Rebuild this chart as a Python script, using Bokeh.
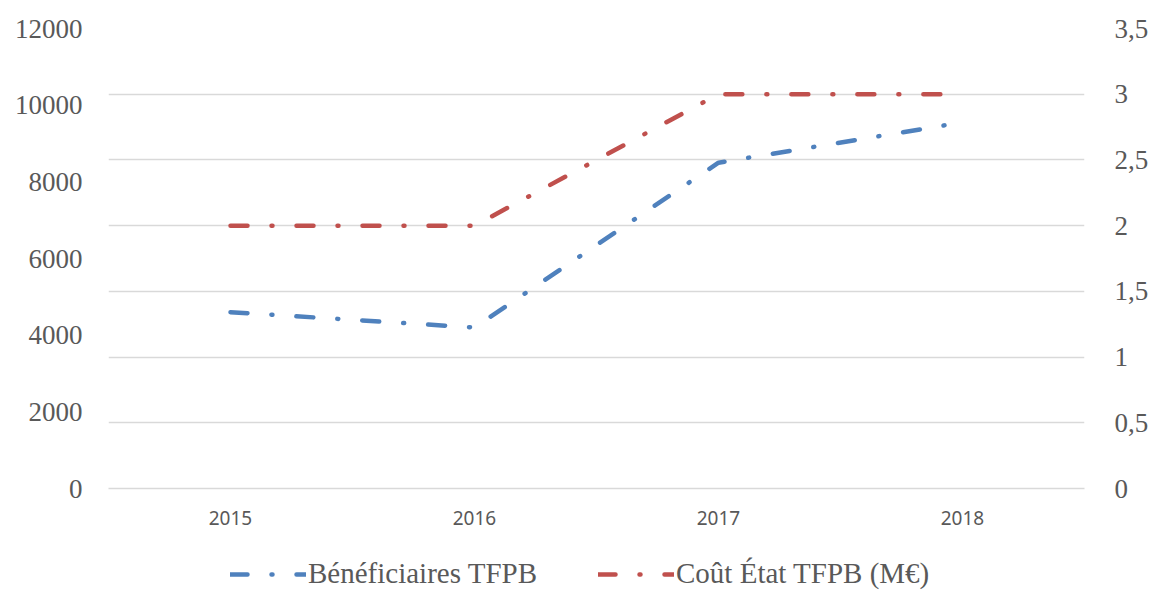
from bokeh.plotting import figure
from bokeh.layouts import column
from bokeh.models import (Range1d, LinearAxis, FixedTicker, CustomJSTickFormatter,
                          Legend, LegendItem, Grid)
from bokeh.embed import file_html
from bokeh.resources import INLINE

years = ["2015", "2016", "2017", "2018"]
beneficiaires = [4600, 4200, 8500, 9550]
cout = [2.0, 2.0, 3.0, 3.0]
left_ticks = [0, 2000, 4000, 6000, 8000, 10000, 12000]
right_ticks = [0, 0.5, 1, 1.5, 2, 2.5, 3, 3.5]
labels = ["Bénéficiaires TFPB", "Coût État TFPB (M€)"]

BLUE = "#4F81BD"
RED = "#C0504D"
TXT = "#595959"
GRID = "#D9D9D9"
DASH = "17 24 1 24"

xs = [i + 0.5 for i in range(len(years))]

p = figure(width=1151, height=538, output_backend="svg", toolbar_location=None,
           x_range=Range1d(0, 4), y_range=Range1d(0, 12000),
           min_border_left=108, min_border_right=66, min_border_top=28, min_border_bottom=50)
p.outline_line_color = None
p.background_fill_color = "white"
p.extra_y_ranges = {"cout": Range1d(0, 3.5)}

# grid follows right axis ticks
p.xgrid.visible = False
p.ygrid.visible = False
g = Grid(dimension=1, ticker=FixedTicker(ticks=right_ticks), y_range_name="cout",
         grid_line_color=GRID, grid_line_width=1.3)
p.add_layout(g)

# left axis
ya = p.yaxis[0]
ya.ticker = FixedTicker(ticks=left_ticks)
ya.axis_line_color = None
ya.major_tick_line_color = None
ya.minor_tick_line_color = None
ya.major_tick_out = 0
ya.minor_tick_out = 0
ya.major_label_text_font = "Liberation Serif"
ya.major_label_text_font_size = "27px"
ya.major_label_text_color = TXT
ya.major_label_standoff = 26

# right axis
ra = LinearAxis(y_range_name="cout", ticker=FixedTicker(ticks=right_ticks),
                formatter=CustomJSTickFormatter(code="return tick.toString().replace('.', ',');"))
ra.axis_line_color = None
ra.major_tick_line_color = None
ra.minor_tick_line_color = None
ra.major_tick_out = 0
ra.minor_tick_out = 0
ra.major_label_text_font = "Liberation Serif"
ra.major_label_text_font_size = "27px"
ra.major_label_text_color = TXT
ra.major_label_standoff = 30
p.add_layout(ra, "right")

# bottom axis
xa = p.xaxis[0]
xa.ticker = FixedTicker(ticks=xs)
xa.formatter = CustomJSTickFormatter(args=dict(years=years),
                                     code="return years[Math.floor(tick)];")
xa.axis_line_color = GRID
xa.axis_line_width = 1.3
xa.major_tick_line_color = None
xa.minor_tick_line_color = None
xa.major_tick_out = 0
xa.minor_tick_out = 0
xa.major_label_text_font = "Noto Sans"
xa.major_label_text_font_size = "19px"
xa.major_label_text_color = TXT
xa.major_label_standoff = 22

p.line(xs, beneficiaires, line_color=BLUE, line_width=4.5,
       line_dash=DASH, line_cap="round", line_join="round")
p.line(xs, cout, line_color=RED, line_width=4.5,
       line_dash=DASH, line_cap="round", line_join="round", y_range_name="cout")

# legend strip below the chart (series drawn out of view, only their legend shows)
q = figure(width=1151, height=52, output_backend="svg", toolbar_location=None,
           x_range=Range1d(0, 1), y_range=Range1d(-2, -1),
           x_axis_location=None, y_axis_location=None,
           min_border_left=0, min_border_right=0, min_border_top=0, min_border_bottom=0)
q.grid.visible = False
q.outline_line_color = None
l1 = q.line(xs, beneficiaires, line_color=BLUE, line_width=4.5, line_dash=DASH, line_cap="round")
l2 = q.line(xs, cout, line_color=RED, line_width=4.5, line_dash=DASH, line_cap="round")

legend = Legend(items=[LegendItem(label=labels[0], renderers=[l1]),
                       LegendItem(label=labels[1], renderers=[l2])],
                orientation="horizontal", location=(122, 0))
legend.label_text_font = "Liberation Serif"
legend.label_text_font_size = "29px"
legend.label_text_color = TXT
legend.glyph_width = 76
legend.glyph_height = 24
legend.label_standoff = 2
legend.spacing = 61
legend.border_line_color = None
legend.background_fill_alpha = 0
legend.margin = 0
legend.padding = 0
q.add_layout(legend, "center")

layout = column(p, q, spacing=0)
open("out.html", "w").write(file_html(layout, INLINE))
